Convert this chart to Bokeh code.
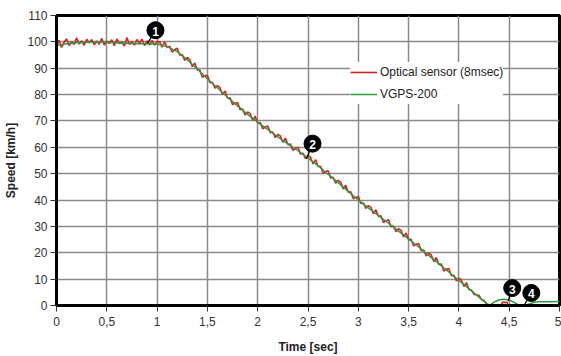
from bokeh.plotting import figure
from bokeh.models import FixedTicker, Range1d, ColumnDataSource
from bokeh.core.properties import value
from bokeh.embed import file_html
from bokeh.resources import INLINE

# ---------------- data ----------------
# Optical sensor (sampled every 0.025 s up to 4.3 s, then sparse)
RED_T = [round(i * 0.025, 3) for i in range(173)] + [4.325, 4.35, 4.4, 4.425, 4.43, 4.48, 4.49, 4.6, 5.0]
RED_V = [
    98.2, 100.6, 97.9, 99.8, 101.2, 98.6, 100.1, 99.0, 101.5, 99.2,
    100.4, 98.7, 101.0, 99.6, 100.9, 98.9, 100.3, 99.1, 101.3, 98.8,
    100.2, 99.4, 100.8, 98.5, 101.1, 99.3, 100.0, 98.4, 101.6, 99.0,
    100.2, 98.7, 100.9, 99.2, 101.0, 98.6, 100.4, 98.9, 100.6, 98.8,
    100.1,
    100.0, 98.0, 100.0, 97.9,
    98.3, 96.1, 97.0, 97.6,
    94.9, 95.2, 93.0, 94.1,
    93.3, 90.6, 92.0, 89.3,
    89.3, 86.6, 87.1, 87.3,
    84.5, 84.7, 82.4, 83.4,
    82.6, 80.0, 81.4, 78.7,
    78.8, 76.2, 76.7, 77.0,
    74.3, 74.5, 72.3, 73.4,
    72.8, 70.2, 71.8, 69.2,
    69.4, 67.0, 67.7, 68.1,
    65.5, 65.8, 63.7, 64.9,
    64.3, 61.9, 63.5, 61.0,
    61.3, 58.8, 59.6, 60.0,
    57.4, 57.8, 55.7, 56.9,
    56.3, 53.7, 55.3, 52.7,
    52.8, 50.2, 50.8, 51.1,
    48.4, 48.6, 46.4, 47.5,
    46.8, 44.2, 45.6, 43.0,
    43.1, 40.5, 41.0, 41.3,
    38.7, 38.9, 36.8, 37.9,
    37.3, 34.8, 36.3, 33.8,
    34.0, 31.5, 32.1, 32.5,
    29.9, 30.1, 28.0, 29.1,
    28.5, 26.0, 27.5, 25.0,
    25.1, 22.6, 23.2, 23.5,
    20.8, 21.0, 18.8, 19.9,
    19.2, 16.7, 18.2, 15.6,
    15.7, 13.1, 13.7, 14.0,
    11.3, 11.5, 9.3, 10.4,
    9.7, 7.2, 8.7, 6.1,
    5.9, 4.2, 4.1, 3.8,
    2.2, 1.9, 0.7, 0.3,
    0.0, 0.0, 0.0, 0.0, 1.2, 1.2, 0.0, 0.0, 0.0,
]

# VGPS-200
GREEN_T = [round(i * 0.1, 1) for i in range(44)] + [4.35, 4.4, 4.45, 4.5, 4.55, 4.6, 4.65, 4.7, 4.75, 4.8, 4.9, 5.0]
GREEN_V = [
    98.6, 99.3, 99.7, 99.9, 100.0, 99.9, 99.7, 99.5, 99.3, 99.3, 99.2,
    98.2, 96.3, 93.2, 89.6, 86.0, 82.5, 79.0, 75.7, 72.5, 69.5,
    66.8, 64.0, 61.3, 58.7, 56.0, 53.0, 49.8, 46.6, 43.3, 40.0,
    37.0, 34.1, 31.2, 28.2, 25.3, 22.2, 19.0, 15.9, 12.7, 9.5,
    6.4, 3.2, 0.0,
    1.3, 2.2, 2.4, 2.1, 1.2, 0.0, 0.0, 0.6, 1.2, 1.4, 1.4, 1.5,
]

# numbered call-outs: marker position and the point on the curve it refers to
MARK_LABEL = ["1", "2", "3", "4"]
MARK_X = [0.984, 2.545, 4.53, 4.72]
MARK_Y = [104.4, 61.4, 6.6, 4.75]
MARK_TX = [0.905, 2.485, 4.49, 4.65]
MARK_TY = [99.4, 55.7, 1.7, 0.2]

X_TICKS = [0, 0.5, 1, 1.5, 2, 2.5, 3, 3.5, 4, 4.5, 5]
X_TICK_LABELS = ["0", "0,5", "1", "1,5", "2", "2,5", "3", "3,5", "4", "4,5", "5"]
Y_TICKS = [0, 10, 20, 30, 40, 50, 60, 70, 80, 90, 100, 110]

FONT = "Liberation Sans"

# ---------------- figure ----------------
p = figure(width=561, height=356, output_backend="svg", toolbar_location=None,
           x_range=Range1d(0, 5), y_range=Range1d(0, 110),
           min_border_left=56, min_border_right=2, min_border_top=15, min_border_bottom=51)
p.background_fill_color = "white"
p.border_fill_color = "white"
p.outline_line_color = "black"
p.outline_line_width = 3

p.xaxis.ticker = FixedTicker(ticks=X_TICKS)
p.xaxis.major_label_overrides = {t: l for t, l in zip(X_TICKS, X_TICK_LABELS)}
p.yaxis.ticker = FixedTicker(ticks=Y_TICKS)

for ax in (p.xaxis, p.yaxis):
    ax.axis_line_color = "black"
    ax.axis_line_width = 3
    ax.major_tick_line_color = "#333333"
    ax.major_tick_line_width = 1
    ax.major_tick_out = 6
    ax.major_tick_in = 0
    ax.minor_tick_line_color = None
    ax.major_label_text_font = FONT
    ax.major_label_text_font_size = "12px"
    ax.major_label_text_color = "#333333"
    ax.axis_label_text_font = FONT
    ax.axis_label_text_font_size = "12px"
    ax.axis_label_text_font_style = "bold"
    ax.axis_label_text_color = "#222222"

p.xaxis.axis_label = "Time [sec]"
p.yaxis.axis_label = "Speed [km/h]"
p.xaxis.major_label_standoff = 5
p.yaxis.major_label_standoff = 3
p.xaxis.axis_label_standoff = 11
p.yaxis.axis_label_standoff = 6

p.grid.grid_line_color = "#8a8a8a"
p.grid.grid_line_width = 1.5

red_src = ColumnDataSource(dict(t=RED_T, v=RED_V))
green_src = ColumnDataSource(dict(t=GREEN_T, v=GREEN_V))

p.line("t", "v", source=red_src, line_color="#d8232a", line_width=1.6,
       legend_label="Optical sensor (8msec)")
p.line("t", "v", source=green_src, line_color="#2f9a3c", line_width=1.5,
       legend_label="VGPS-200")

mark_src = ColumnDataSource(dict(x=MARK_X, y=MARK_Y, tx=MARK_TX, ty=MARK_TY, lab=MARK_LABEL))
p.segment(x0="x", y0="y", x1="tx", y1="ty", source=mark_src, line_color="black", line_width=1.3)
p.scatter("x", "y", source=mark_src, size=17, fill_color="black", line_color="black", line_width=1)
p.text("x", "y", text="lab", source=mark_src, text_color="white", text_font=value(FONT),
       text_font_style="bold", text_font_size="12px", text_align="center", text_baseline="middle",
       y_offset=1)

leg = p.legend[0]
leg.location = (294, 201)
leg.margin = 0
leg.padding = 6
leg.spacing = 2
leg.glyph_width = 27
leg.glyph_height = 20
leg.label_height = 20
leg.label_standoff = 3
leg.border_line_color = None
leg.background_fill_color = "white"
leg.background_fill_alpha = 1.0
leg.label_text_font = FONT
leg.label_text_font_size = "12px"
leg.label_text_color = "#222222"

open("out.html", "w").write(file_html(p, INLINE))
